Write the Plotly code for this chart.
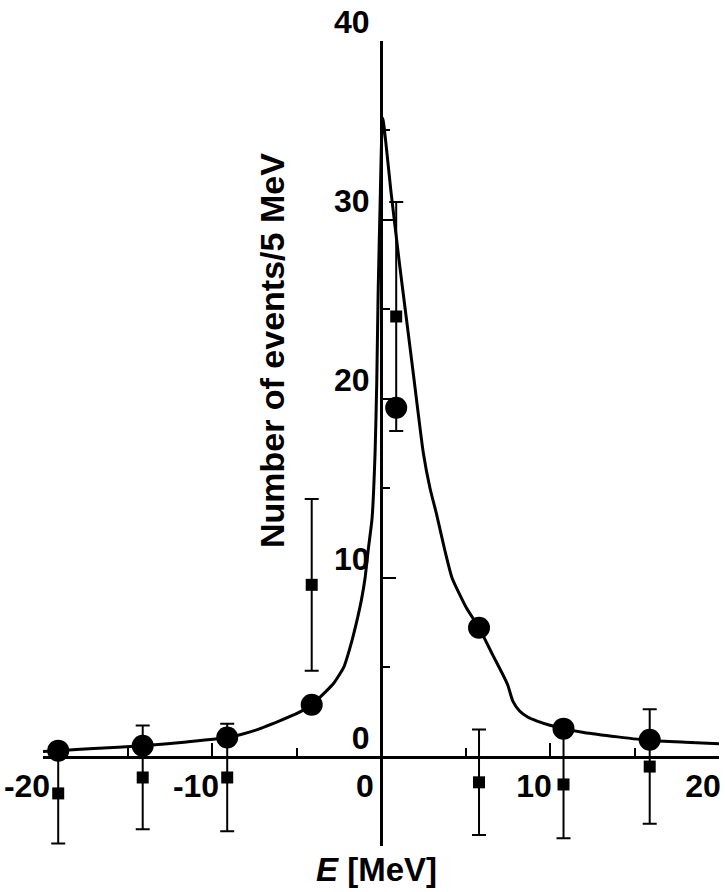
import plotly.graph_objects as go

# Data
circle_x = [-19.1, -14.1, -9.1, -4.1, 0.9, 5.8, 10.8, 15.9]
circle_y = [0.33, 0.6, 1.06, 2.9, 19.5, 7.2, 1.56, 0.94]

square_x = [-19.1, -14.1, -9.1, -4.1, 0.9, 5.8, 10.8, 15.9]
square_y = [-2.06, -1.17, -1.17, 9.6, 24.6, -1.44, -1.56, -0.56]
square_err = [2.8, 2.9, 3.0, 4.8, 6.4, 2.95, 3.0, 3.2]

curve_x = [-20, -19.1, -17, -14.1, -11.5, -9.1, -7.5, -6, -5, -4.1, -3.3, -2.8,
           -2.2, -1.8, -1.4, -1.15, -0.94, -0.75, -0.53, -0.35, -0.25, -0.17,
           -0.05, 0.1, 0.6, 1.1, 1.5, 1.9, 2.5, 2.9, 3.3, 3.76, 4.2, 5.06, 5.8,
           6.6, 7.2, 7.5, 7.8, 8.2, 8.7, 9.2, 10.0, 10.8, 12, 14, 15.9, 18, 20]
curve_y = [0.28, 0.33, 0.45, 0.6, 0.82, 1.06, 1.45, 2.0, 2.4, 2.9, 3.6, 4.1,
           5.0, 6.2, 7.7, 8.8, 10.0, 11.6, 13.3, 17.0, 21.0, 25.9,
           31.0, 35.7, 31.5, 27.5, 24.5, 21.5, 17.0, 15.0, 13.5, 11.6, 10.0, 8.3, 7.2,
           5.7, 4.6, 4.0, 3.1, 2.55, 2.2, 2.0, 1.75, 1.56, 1.35, 1.1, 0.9, 0.8, 0.72]

x_ticks = [-20, -10, 0, 10, 20]
x_minor = [-15, -5, 5, 15]
y_ticks = [0, 10, 20, 30, 40]
y_minor = [-5, 5, 15, 25, 35]

FONT = "Arial, Liberation Sans, sans-serif"

fig = go.Figure()
fig.add_trace(go.Scatter(x=curve_x, y=curve_y, mode="lines",
                         line=dict(color="black", width=3, shape="spline", smoothing=0.5),
                         hoverinfo="skip"))
fig.add_trace(go.Scatter(x=square_x, y=square_y, mode="markers",
                         marker=dict(symbol="square", size=12, color="black"),
                         error_y=dict(type="data", array=square_err, symmetric=True,
                                      color="black", thickness=2, width=7)))
fig.add_trace(go.Scatter(x=circle_x, y=circle_y, mode="markers",
                         marker=dict(symbol="circle", size=22, color="black")))

fig.update_layout(
    width=725, height=892,
    margin=dict(l=41, r=4, t=37, b=46),
    paper_bgcolor="white", plot_bgcolor="white",
    showlegend=False,
    font=dict(family=FONT, size=32, color="black", weight="bold"),
    xaxis=dict(range=[-20, 20], anchor="free", position=5 / 45,
               showgrid=False, zeroline=False,
               showline=True, linecolor="black", linewidth=3,
               tickmode="array", tickvals=x_ticks, ticktext=[str(v) for v in x_ticks],
               ticks="inside", ticklen=13, tickwidth=2, tickcolor="black",
               minor=dict(tickvals=x_minor, ticks="inside", ticklen=8, tickwidth=2,
                          tickcolor="black"),
               tickfont=dict(size=32, family=FONT, weight="bold"),
               ticklabelshift=-16, ticklabelstandoff=0),
    yaxis=dict(range=[-5, 40], anchor="free", position=0.5,
               showgrid=False, zeroline=False,
               showline=True, linecolor="black", linewidth=3,
               tickmode="array", tickvals=y_ticks, ticktext=[str(v) for v in y_ticks],
               ticks="inside", ticklen=13, tickwidth=2, tickcolor="black",
               minor=dict(tickvals=y_minor, ticks="inside", ticklen=7, tickwidth=2,
                          tickcolor="black"),
               tickfont=dict(size=32, family=FONT, weight="bold"),
               ticklabelshift=-19, ticklabelstandoff=4),
    annotations=[
        dict(text="Number of events/5 MeV", textangle=-90, xref="paper", yref="paper",
             x=0.3397, y=0.6156, xanchor="center", yanchor="middle", showarrow=False,
             font=dict(size=34, family=FONT, weight="bold")),
        dict(text="<i>E</i> [MeV]", xref="paper", yref="paper",
             x=0.494, y=-0.0297, xanchor="center", yanchor="middle", showarrow=False,
             font=dict(size=33, family=FONT, weight="bold")),
    ],
)

fig.write_html("out.html", config={"displayModeBar": False},
               post_script="document.body.style.margin='0';")
